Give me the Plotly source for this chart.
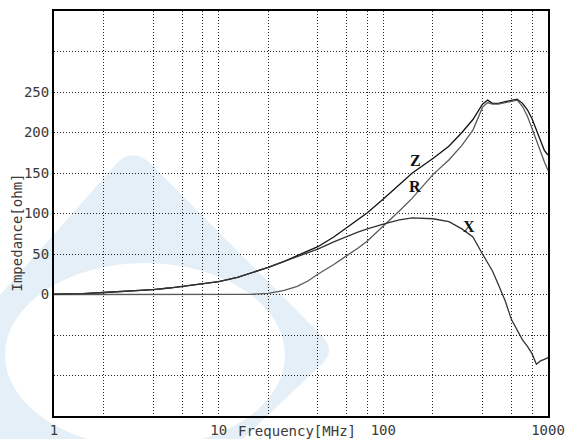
import math
import plotly.graph_objects as go

# ---------------- data ----------------
freq_mhz = [1, 1.5, 2, 3, 4, 5, 6, 8, 10, 13, 16, 20, 25, 30, 35, 40, 50, 60, 70, 80,
            100, 125, 150, 200, 250, 300, 350, 400, 430, 460, 500, 550, 600, 650,
            700, 750, 800, 850, 900, 950, 1000]

z_ohm = [0.3, 1, 2.5, 4.5, 6, 8, 10, 13, 16, 21, 27, 33.5, 41, 48, 54, 59, 71, 83, 93, 101,
         118, 136, 150, 168, 183, 200, 216, 235, 240, 236, 236, 238, 240, 241,
         236, 228, 217, 202, 190, 178, 172]

r_ohm = [0, 0, 0, 0, 0, 0, 0, 0, 0, 0, 0.3, 1.5, 5, 10, 17, 25, 37, 48, 57, 66,
         84, 103, 119, 148, 166, 184, 203, 231, 237, 235, 235, 237, 239, 240,
         232, 220, 205, 190, 175, 164, 153]

x_ohm = [0.3, 1, 2.5, 4.5, 6, 8, 10, 13, 16, 21, 27, 33.5, 41, 47, 52, 56, 65, 72, 77, 81,
         87, 92, 94.5, 93.5, 90, 81, 71, 50, 40, 29, 12, -8, -31, -45,
         -56, -64, -73, -86, -82, -80, -78]

x_grid_vals = [1, 2, 4, 6, 8, 10, 20, 40, 60, 80, 100, 200, 400, 600, 800, 1000]
x_grid_text = ["1", "", "", "", "", "10", "", "", "", "", "100", "", "", "", "", "1000"]

y_grid_vals = [-150, -100, -50, 0, 50, 100, 150, 200, 250, 300, 350]
y_grid_text = ["", "", "", "0", "50", "100", "150", "200", "250", "", ""]

label_names = ["Z", "R", "X"]
label_freq = [156, 156, 329]
label_vals = [166, 133, 84]

# ---------------- layout geometry ----------------
W, H = 568, 439
ML, MR, MT, MB = 54, 20, 11, 23
PW, PH = W - ML - MR, H - MT - MB


def px(x):
    return (x - ML) / PW


def py(y):
    return (H - MB - y) / PH


fig = go.Figure()

line_styles = {"Z": "#111111", "R": "#5a5a5a", "X": "#333333"}
for name, vals in (("Z", z_ohm), ("R", r_ohm), ("X", x_ohm)):
    fig.add_trace(go.Scatter(
        x=freq_mhz, y=vals, mode="lines", name=name,
        line=dict(color=line_styles[name], width=1.3),
        showlegend=False, hoverinfo="skip"))

# curve labels (log axis: annotation x is given in log10 units)
for n, f, v in zip(label_names, label_freq, label_vals):
    fig.add_annotation(x=math.log10(f), y=v, xref="x", yref="y", text="<b>%s</b>" % n,
                       showarrow=False,
                       font=dict(family="Liberation Serif", size=16, color="#111111"),
                       xanchor="center", yanchor="middle")

# background watermark (decorative)
wm_color = "#e4eff7"
pts = [(0, 295), (118, 162), (133, 148), (150, 163), (322, 336), (336, 350),
       (322, 364), (243, 439), (0, 439)]
path = "M {} {}".format(px(pts[0][0]), py(pts[0][1]))
path += " L {} {}".format(px(pts[1][0]), py(pts[1][1]))
path += " Q {} {} {} {}".format(px(pts[2][0]), py(pts[2][1]), px(pts[3][0]), py(pts[3][1]))
path += " L {} {}".format(px(pts[4][0]), py(pts[4][1]))
path += " Q {} {} {} {}".format(px(pts[5][0]), py(pts[5][1]), px(pts[6][0]), py(pts[6][1]))
path += " L {} {}".format(px(pts[7][0]), py(pts[7][1]))
path += " L {} {} Z".format(px(pts[8][0]), py(pts[8][1]))
fig.add_shape(type="path", path=path, xref="paper", yref="paper",
              fillcolor=wm_color, line=dict(width=0), layer="below")
fig.add_shape(type="circle", xref="paper", yref="paper",
              x0=px(5), x1=px(285), y0=py(447), y1=py(263),
              fillcolor="white", line=dict(width=0), layer="below")

tick_font = dict(family="DejaVu Sans Mono", size=14, color="#3a3a3a")

fig.update_xaxes(type="log", range=[0, 3], tickmode="array",
                 tickvals=x_grid_vals, ticktext=x_grid_text,
                 showgrid=True, gridcolor="#222222", gridwidth=1, griddash="1px,2px",
                 showline=True, linecolor="black", linewidth=2, mirror=True,
                 ticks="", zeroline=False, tickfont=tick_font, tickangle=0,
                 automargin=False)
fig.update_yaxes(range=[-150, 350], tickmode="array",
                 tickvals=y_grid_vals, ticktext=y_grid_text,
                 showgrid=True, gridcolor="#222222", gridwidth=1, griddash="1px,2px",
                 showline=True, linecolor="black", linewidth=2, mirror=True,
                 ticks="", zeroline=False, tickfont=tick_font, automargin=False)

fig.add_annotation(x=px(297), y=py(431), xref="paper", yref="paper",
                   text="Frequency[MHz]", showarrow=False,
                   font=dict(family="DejaVu Sans Mono", size=14, color="#3a3a3a"),
                   xanchor="center", yanchor="middle")
fig.add_annotation(x=px(16.5), y=py(233), xref="paper", yref="paper",
                   text="Impedance[ohm]", showarrow=False, textangle=-90,
                   font=dict(family="DejaVu Sans Mono", size=14, color="#3a3a3a"),
                   xanchor="center", yanchor="middle")

fig.update_layout(width=W, height=H,
                  margin=dict(l=ML, r=MR, t=MT, b=MB, pad=0, autoexpand=False),
                  paper_bgcolor="white", plot_bgcolor="rgba(0,0,0,0)",
                  showlegend=False)

fig.write_html("out.html")
